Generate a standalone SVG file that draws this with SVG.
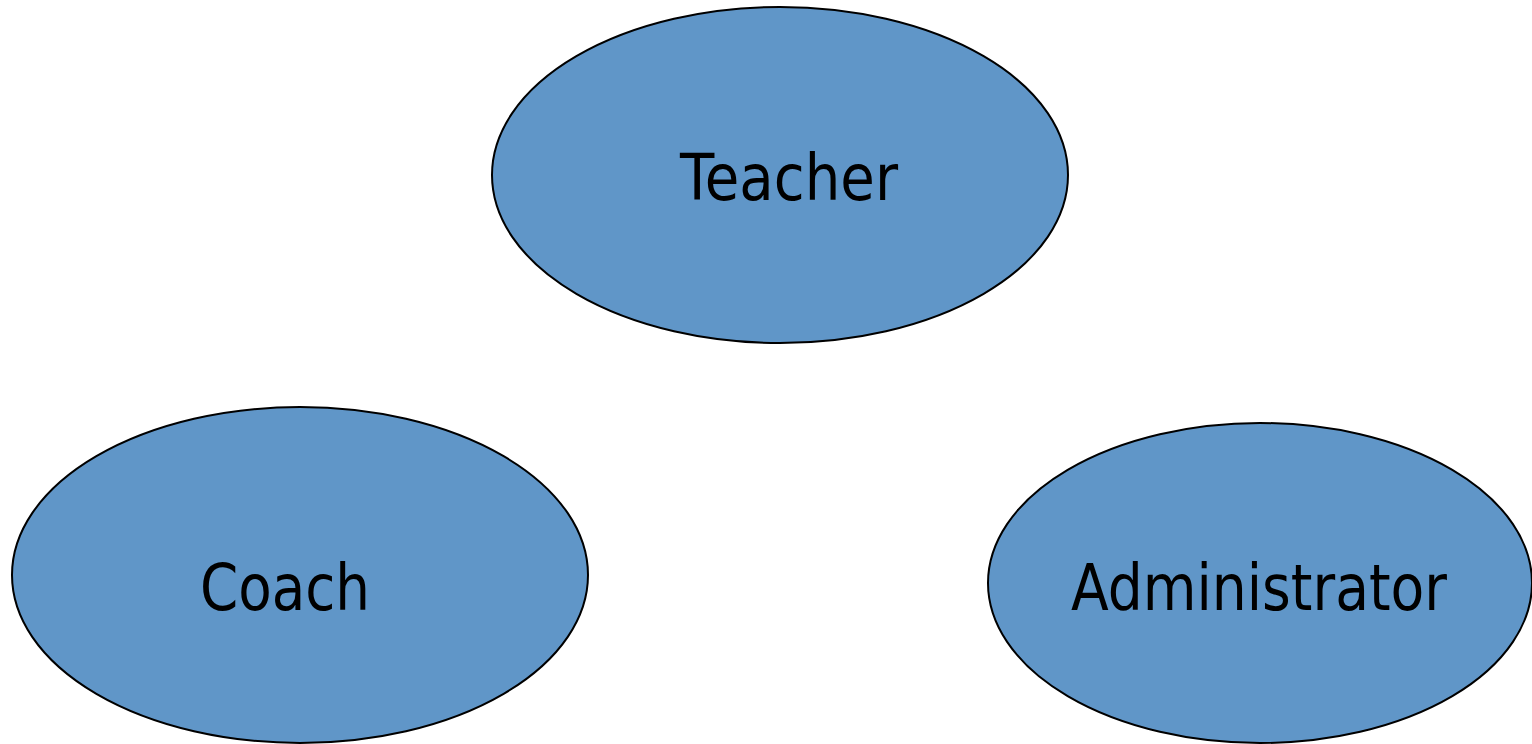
<svg xmlns="http://www.w3.org/2000/svg" width="1532" height="744" viewBox="0 0 1532 744">
<style>
.n{fill:#6096C8;stroke:#000;stroke-width:2}
.t{font-family:"DejaVu Sans","Liberation Sans",sans-serif;font-size:64px;fill:#000;text-anchor:middle}
</style>
<rect width="1532" height="744" fill="#fff"/>
<g id="connectors"></g>
<g id="teacher"><ellipse class="n" cx="780" cy="175" rx="288" ry="168"/><text class="t" x="789" y="200" textLength="218" lengthAdjust="spacingAndGlyphs">Teacher</text></g>
<g id="coach"><ellipse class="n" cx="300" cy="575" rx="288" ry="168"/><text class="t" x="285" y="610" textLength="170" lengthAdjust="spacingAndGlyphs">Coach</text></g>
<g id="administrator"><ellipse class="n" cx="1260" cy="583" rx="272" ry="160"/><text class="t" x="1259" y="610" textLength="376" lengthAdjust="spacingAndGlyphs">Administrator</text></g>
</svg>
